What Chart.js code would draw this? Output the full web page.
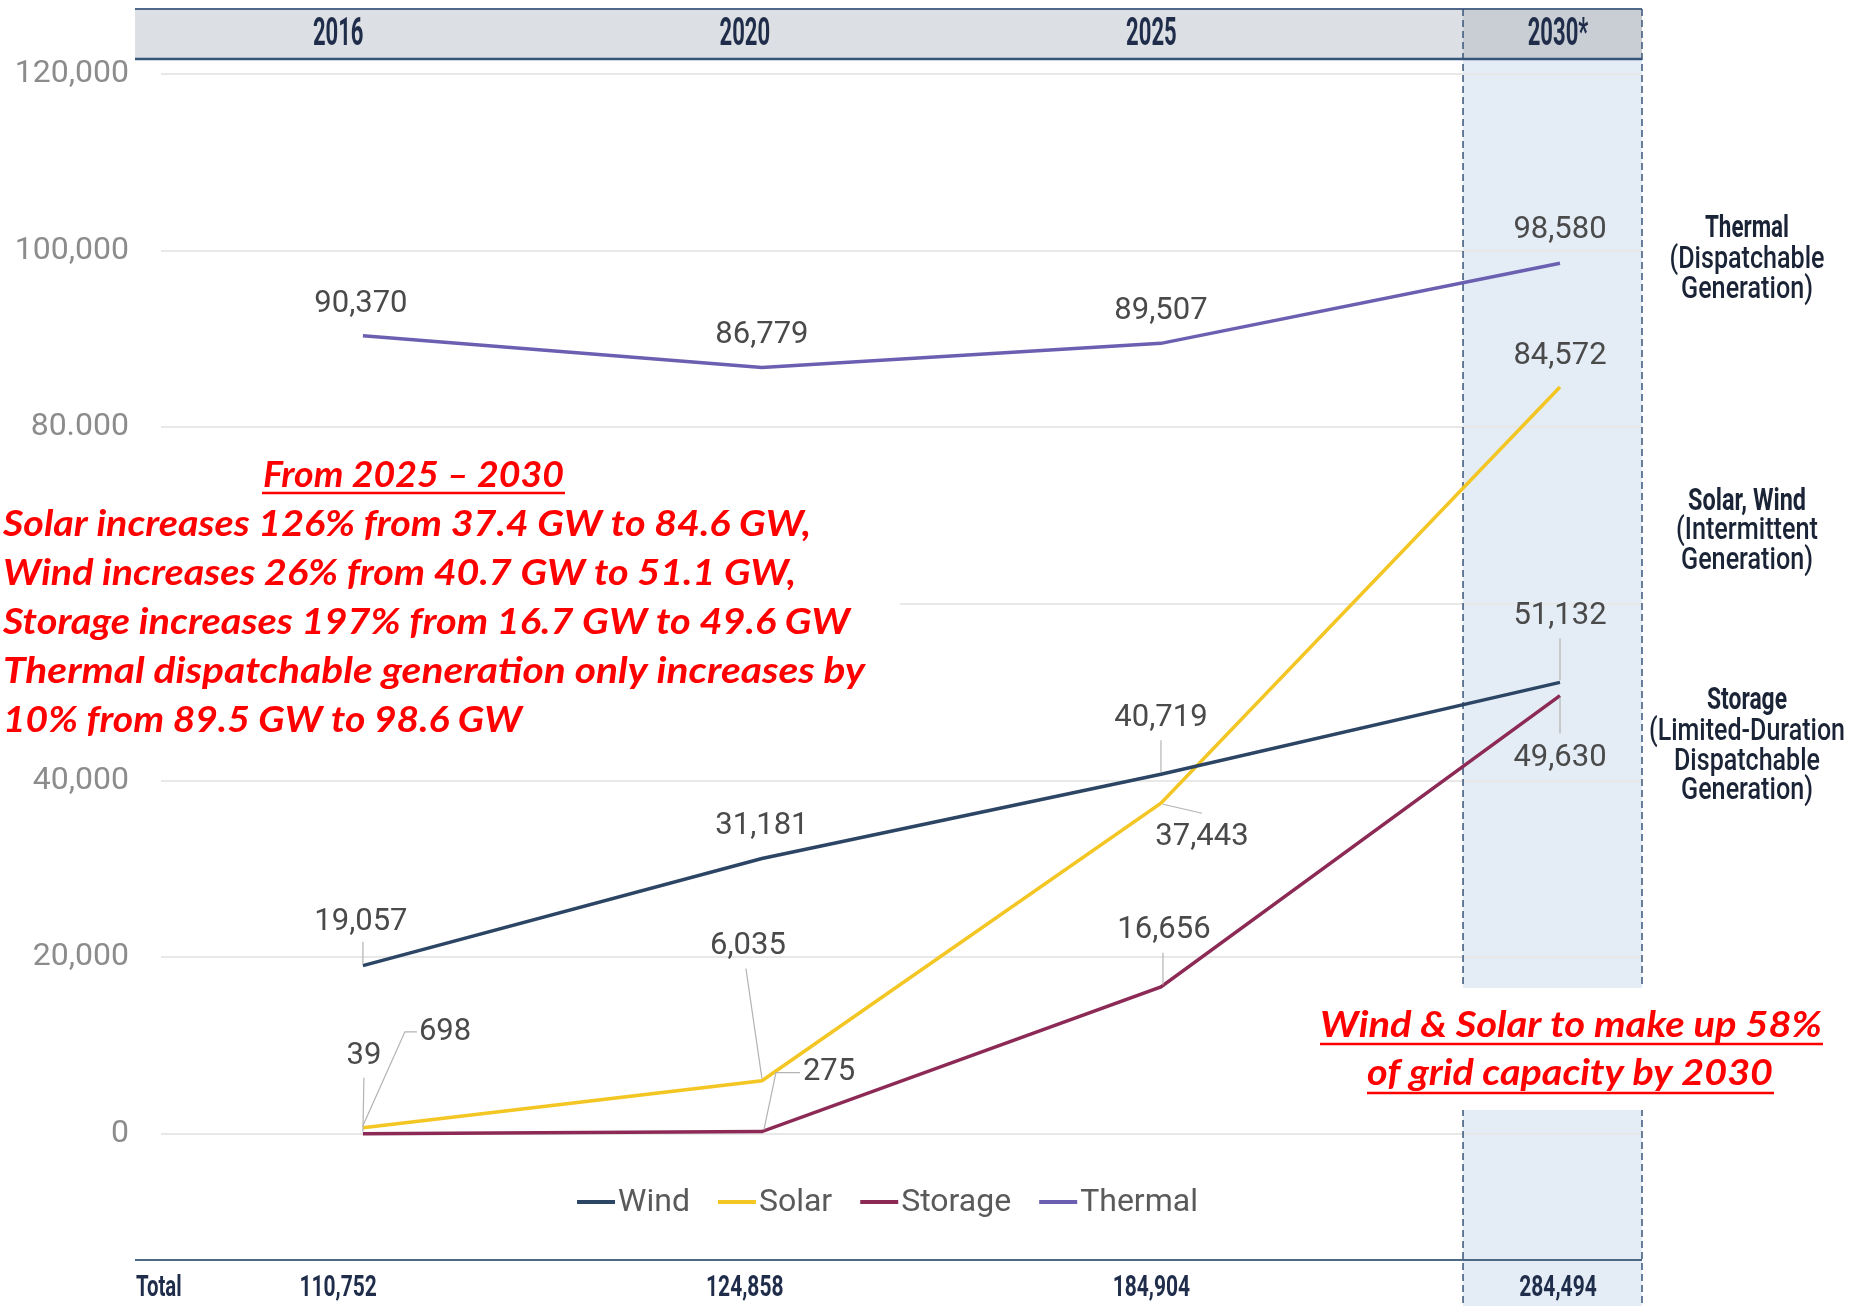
<!DOCTYPE html>
<html><head><meta charset="utf-8">
<script src="https://cdn.jsdelivr.net/npm/chart.js@4.4.1/dist/chart.umd.min.js"></script>
<style>html,body{margin:0;padding:0;background:#fff;overflow:hidden}canvas{display:block}</style>
</head><body>
<canvas id="c" width="1870" height="1306"></canvas>
<script>
// ---------------- DATA ----------------
const categories = ['2016', '2020', '2025', '2030*'];
const seriesNames = ['Wind', 'Solar', 'Storage', 'Thermal'];
const wind    = [19057, 31181, 40719, 51132];
const solar   = [698, 6035, 37443, 84572];
const storage = [39, 275, 16656, 49630];
const thermal = [90370, 86779, 89507, 98580];
const totals  = [110752, 124858, 184904, 284494];
const yTickValues = [0, 20000, 40000, 60000, 80000, 100000, 120000];
const yTickLabels = ['0', '20,000', '40,000', '60,000', '80.000', '100,000', '120,000'];
const noteHeading = 'From 2025 \u2013 2030';
const noteLines = [
  'Solar increases 126% from 37.4 GW to 84.6 GW,',
  'Wind increases 26% from 40.7 GW to 51.1 GW,',
  'Storage increases 197% from 16.7 GW to 49.6 GW',
  'Thermal dispatchable generation only increases by',
  '10% from 89.5 GW to 98.6 GW'
];
const shareNote = ['Wind & Solar to make up 58%', 'of grid capacity by 2030'];
const sideGroups = [
  ['Thermal', '(Dispatchable', 'Generation)'],
  ['Solar, Wind', '(Intermittent', 'Generation)'],
  ['Storage', '(Limited-Duration', 'Dispatchable', 'Generation)']
];
const totalLabel = 'Total';

// ---------------- STYLE / LAYOUT ----------------
const colors = ['#2c4565', '#f3c623', '#8c2a55', '#6a5fb0'];
const seriesValues = [wind, solar, storage, thermal];
const fmt = v => v.toLocaleString('en-US');

const labelLayout = [
  [ {dx:-2,dy:-43,leader:[[0,-2],[0,-24]]}, {dx:0,dy:-32}, {dx:0,dy:-56,leader:[[0,-2],[0,-34]]}, {dx:0,dy:-66,leader:[[0,-2],[0,-44]]} ],
  [ {dx:56,dy:-96,align:'left',leader:[[0,-2],[42,-96],[54,-96]]}, {dx:-14,dy:-134,leader:[[0,-2],[-16,-112]]}, {dx:41,dy:34,leader:[[2,1],[41,10]]}, {dx:0,dy:-31} ],
  [ {dx:1,dy:-77,leader:[[0,-2],[1,-56]]}, {dx:41,dy:-59,align:'left',leader:[[2,-2],[14,-59],[38,-59]]}, {dx:3,dy:-57,leader:[[2,-2],[2,-34]]}, {dx:0,dy:63,leader:[[0,2],[0,38]]} ],
  [ {dx:-2,dy:-31}, {dx:0,dy:-32}, {dx:0,dy:-32}, {dx:0,dy:-33} ]
];

function fitText(ctx, text, x, y, width, align) {
  const w = ctx.measureText(text).width;
  const s = width / w;
  ctx.save();
  ctx.translate(x, y);
  ctx.scale(s, 1);
  ctx.textAlign = 'left';
  ctx.fillText(text, align === 'center' ? -w / 2 : 0, 0);
  ctx.restore();
}
function condText(ctx, text, x, y, s, align) {
  const w = ctx.measureText(text).width;
  ctx.save();
  ctx.translate(x, y);
  ctx.scale(s, 1);
  ctx.textAlign = 'left';
  ctx.fillText(text, align === 'center' ? -w / 2 : 0, 0);
  ctx.restore();
}

const deco = {
  id: 'deco',
  beforeDraw(chart) {
    const ctx = chart.ctx, ca = chart.chartArea, xs = chart.scales.x;
    const bandL = ca.left - 26, shadeL = xs.getPixelForValue(2.757), shadeR = ca.right;
    const headTop = 9, headBot = 59;
    ctx.save();
    ctx.fillStyle = '#ffffff';
    ctx.fillRect(0, 0, chart.width, chart.height);
    ctx.fillStyle = '#e4edf6';
    ctx.fillRect(shadeL, headBot, shadeR - shadeL, chart.height - headBot);
    ctx.fillStyle = '#dcdfe3';
    ctx.fillRect(bandL, headTop, shadeL - bandL, headBot - headTop);
    ctx.fillStyle = '#c9ced5';
    ctx.fillRect(shadeL, headTop, shadeR - shadeL, headBot - headTop);
    ctx.strokeStyle = '#50698a'; ctx.lineWidth = 2;
    ctx.beginPath(); ctx.moveTo(bandL, headTop); ctx.lineTo(shadeR, headTop); ctx.stroke();
    ctx.strokeStyle = '#35557a'; ctx.lineWidth = 2.5;
    ctx.beginPath(); ctx.moveTo(bandL, headBot); ctx.lineTo(shadeR, headBot); ctx.stroke();
    ctx.restore();
  },
  beforeDatasetsDraw(chart) {
    const ctx = chart.ctx, ca = chart.chartArea, xs = chart.scales.x;
    const shadeL = xs.getPixelForValue(2.757), shadeR = ca.right;
    ctx.save();
    ctx.strokeStyle = '#3a5578'; ctx.lineWidth = 1.5; ctx.setLineDash([7, 4]);
    [shadeL, shadeR].forEach(x => { ctx.beginPath(); ctx.moveTo(x, 9); ctx.lineTo(x, chart.height); ctx.stroke(); });
    ctx.setLineDash([]);
    ctx.strokeStyle = '#4d6885'; ctx.lineWidth = 2;
    ctx.beginPath(); ctx.moveTo(ca.left - 26, 1260); ctx.lineTo(shadeR, 1260); ctx.stroke();
    ctx.restore();
  },
  afterDatasetsDraw(chart) {
    const ctx = chart.ctx;
    ctx.save();
    ctx.font = '31px Roboto';
    ctx.fillStyle = '#4a4a4a';
    ctx.textBaseline = 'middle';
    chart.data.datasets.forEach((ds, si) => {
      const meta = chart.getDatasetMeta(si);
      meta.data.forEach((pt, i) => {
        const L = labelLayout[si][i];
        if (L.leader) {
          ctx.strokeStyle = '#b3b3b3'; ctx.lineWidth = 1.2;
          ctx.beginPath();
          L.leader.forEach((p, k) => { const fx = pt.x + p[0], fy = pt.y + p[1]; k ? ctx.lineTo(fx, fy) : ctx.moveTo(fx, fy); });
          ctx.stroke();
        }
        ctx.textAlign = L.align || 'center';
        ctx.fillText(fmt(seriesValues[si][i]), pt.x + L.dx, pt.y + L.dy);
      });
    });
    ctx.restore();
  },
  afterDraw(chart) {
    const ctx = chart.ctx, ca = chart.chartArea, xs = chart.scales.x;
    ctx.save();
    // header labels
    ctx.fillStyle = '#1f2d4a';
    ctx.textBaseline = 'middle';
    ctx.font = 'bold 38px Roboto';
    categories.forEach((c, i) => condText(ctx, c, xs.getPixelForValue(i * 1.019 - 0.062), 35, 0.58, 'center'));
    // totals row
    ctx.font = 'bold 30px Roboto';
    condText(ctx, totalLabel, ca.left - 25, 1288, 0.68, 'left');
    totals.forEach((t, i) => condText(ctx, fmt(t), xs.getPixelForValue(i * 1.019 - 0.062), 1288, 0.7, 'center'));

    // legend
    ctx.font = '32px Roboto';
    const mW = 38, gap = 3, itemGap = 28;
    let total = 0;
    const widths = seriesNames.map(n => ctx.measureText(n).width);
    widths.forEach(w => total += mW + gap + w);
    total += itemGap * (seriesNames.length - 1);
    let lx = (ca.left + ca.right) / 2 - 14 - total / 2;
    const ly = 1202;
    seriesNames.forEach((n, i) => {
      ctx.strokeStyle = colors[i]; ctx.lineWidth = 4;
      ctx.beginPath(); ctx.moveTo(lx, ly); ctx.lineTo(lx + mW, ly); ctx.stroke();
      ctx.fillStyle = '#5a5a5a'; ctx.textAlign = 'left';
      ctx.fillText(n, lx + mW + gap, ly + 1);
      lx += mW + gap + widths[i] + itemGap;
    });

    // side labels
    const sideY = [[229, 260, 290], [502, 531, 561], [701, 732, 762, 791]];
    const sideW = [[84, 155, 132], [118, 142, 132], [80, 196, 146, 132]];
    ctx.fillStyle = '#1b2436';
    sideGroups.forEach((g, gi) => {
      g.forEach((line, li) => {
        ctx.font = li === 0 ? 'bold 31px Roboto' : '500 31px Roboto';
        fitText(ctx, line, 1747, sideY[gi][li], sideW[gi][li], 'center');
      });
    });

    // red note box (left)
    ctx.fillStyle = '#ffffff';
    ctx.fillRect(0, 447, 900, 298);
    ctx.fillStyle = '#ff0000';
    ctx.strokeStyle = '#ff0000';
    ctx.textBaseline = 'alphabetic';
    ctx.font = 'italic bold 36px Lato';
    fitText(ctx, noteHeading, 263, 487, 301, 'left');
    ctx.lineWidth = 2.5;
    ctx.beginPath(); ctx.moveTo(262, 493); ctx.lineTo(565, 493); ctx.stroke();
    const noteW = [808, 793, 847, 862, 519];
    noteLines.forEach((t, i) => fitText(ctx, t, 3, 536 + i * 49, noteW[i], 'left'));

    // red note box (right)
    ctx.fillStyle = '#ffffff';
    ctx.fillRect(1300, 988, 540, 122);
    ctx.fillStyle = '#ff0000';
    fitText(ctx, shareNote[0], 1320, 1037, 502, 'left');
    fitText(ctx, shareNote[1], 1367, 1085, 406, 'left');
    ctx.beginPath(); ctx.moveTo(1320, 1044); ctx.lineTo(1823, 1044); ctx.stroke();
    ctx.beginPath(); ctx.moveTo(1367, 1093); ctx.lineTo(1774, 1093); ctx.stroke();
    ctx.restore();
  }
};

new Chart(document.getElementById('c'), {
  type: 'line',
  data: {
    datasets: seriesNames.map((n, si) => ({
      label: n,
      data: seriesValues[si].map((v, i) => ({ x: i, y: v })),
      borderColor: colors[si],
      backgroundColor: colors[si],
      borderWidth: 3.5,
      pointRadius: 0,
      tension: 0,
      clip: false
    }))
  },
  options: {
    responsive: false,
    animation: false,
    devicePixelRatio: 1,
    layout: { padding: { top: 74, right: 228, bottom: 172, left: 0 } },
    plugins: { legend: { display: false }, tooltip: { enabled: false } },
    scales: {
      x: { type: 'linear', min: -0.506, max: 3.2055, display: false },
      y: {
        min: 0, max: 120000,
        afterBuildTicks: s => { s.ticks = yTickValues.map(v => ({ value: v })); },
        afterFit: s => { s.width = 161; },
        ticks: {
          callback: v => yTickLabels[yTickValues.indexOf(v)],
          color: '#8c8c8c',
          font: { family: 'Roboto', size: 32 },
          padding: 32
        },
        grid: { color: '#e8e8e8', lineWidth: 2, drawTicks: false },
        border: { display: false }
      }
    }
  },
  plugins: [deco]
});
</script>
</body></html>
